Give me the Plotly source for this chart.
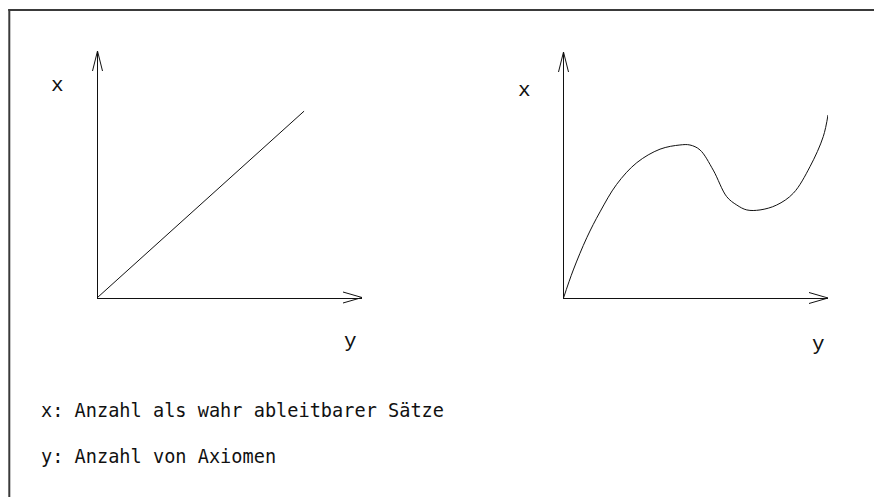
import plotly.graph_objects as go

W, H = 874, 497

# Left chart: straight line (data units, axes range 0..10)
lin_x = [0.0, 7.81]
lin_y = [0.0, 7.56]

# Right chart: curve (data units, axes range 0..10)
cur_x = [0.0, 0.37, 0.88, 1.38, 2.01, 2.77, 3.65, 4.40, 4.78, 5.16, 5.66,
         6.17, 6.55, 6.93, 7.43, 8.06, 8.69, 9.32, 9.82, 10.0]
cur_y = [0.0, 1.14, 2.45, 3.50, 4.62, 5.50, 6.05, 6.22, 6.22, 6.02, 5.20,
         4.12, 3.78, 3.58, 3.58, 3.78, 4.26, 5.34, 6.56, 7.44]

axis_x_label = "x"
axis_y_label = "y"
legend_lines = ["x: Anzahl als wahr ableitbarer Sätze", "y: Anzahl von Axiomen"]

FONT = "DejaVu Sans Mono"
LABEL_FONT = "Liberation Mono"


def px(v):
    return v / W


def py(v):
    return 1 - v / H


fig = go.Figure()
fig.add_trace(go.Scatter(x=lin_x, y=lin_y, mode="lines",
                         line=dict(color="#111", width=1),
                         xaxis="x", yaxis="y", hoverinfo="skip"))
fig.add_trace(go.Scatter(x=cur_x, y=cur_y, mode="lines",
                         line=dict(color="#111", width=1, shape="spline", smoothing=1.0),
                         xaxis="x2", yaxis="y2", hoverinfo="skip"))


def ax(domain, anchor):
    return dict(domain=domain, range=[0, 10], showgrid=False, zeroline=False,
                showticklabels=False, ticks="", showline=True, linecolor="#111",
                linewidth=1, anchor=anchor, fixedrange=True)


fig.update_layout(
    width=W, height=H,
    margin=dict(l=0, r=0, t=0, b=0),
    paper_bgcolor="white", plot_bgcolor="rgba(0,0,0,0)",
    showlegend=False,
    xaxis=ax([px(97.5), px(362)], "y"),
    yaxis=ax([py(297.5), py(51)], "x"),
    xaxis2=ax([px(563.5), px(828)], "y2"),
    yaxis2=ax([py(298), py(52)], "x2"),
)

shapes = []
# arrow wings
for xr, yr in [("x domain", "y domain"), ("x2 domain", "y2 domain")]:
    for dy in (5.5, -5.5):
        shapes.append(dict(type="line", xref=xr, yref=yr,
                           xsizemode="pixel", ysizemode="pixel",
                           xanchor=1, yanchor=0, x0=0, y0=0, x1=-19, y1=dy,
                           line=dict(color="#111", width=1)))
    for dx in (5, -5):
        shapes.append(dict(type="line", xref=xr, yref=yr,
                           xsizemode="pixel", ysizemode="pixel",
                           xanchor=0, yanchor=1, x0=0, y0=0, x1=dx, y1=-20,
                           line=dict(color="#111", width=1)))
# frame: left and top edges only (the box runs past the window)
shapes.append(dict(type="line", xref="paper", yref="paper",
                   x0=px(9.3), x1=px(9.3), y0=0, y1=py(9),
                   line=dict(color="#3a3a3a", width=2)))
shapes.append(dict(type="line", xref="paper", yref="paper",
                   x0=px(8.3), x1=1, y0=py(10), y1=py(10),
                   line=dict(color="#3a3a3a", width=2)))
fig.update_layout(shapes=shapes)

ann = []


def txt(s, x, y, size, family, xanchor="center"):
    ann.append(dict(text=s, x=px(x), y=py(y), xref="paper", yref="paper",
                    showarrow=False, xanchor=xanchor, yanchor="middle",
                    font=dict(family=family, size=size, color="#111")))


txt(axis_x_label, 57, 85, 21, LABEL_FONT)
txt(axis_y_label, 350, 341, 21, LABEL_FONT)
txt(axis_x_label, 524, 91, 21, LABEL_FONT)
txt(axis_y_label, 818, 344, 21, LABEL_FONT)
txt(legend_lines[0], 39, 410, 18.6, FONT, "left")
txt(legend_lines[1], 39, 456, 18.6, FONT, "left")
fig.update_layout(annotations=ann)

fig.write_html(
    "out.html",
    config=dict(displayModeBar=False, staticPlot=True),
    post_script=("document.documentElement.style.overflow='hidden';"
                 "document.body.style.margin='0';document.body.style.overflow='hidden';"),
)
